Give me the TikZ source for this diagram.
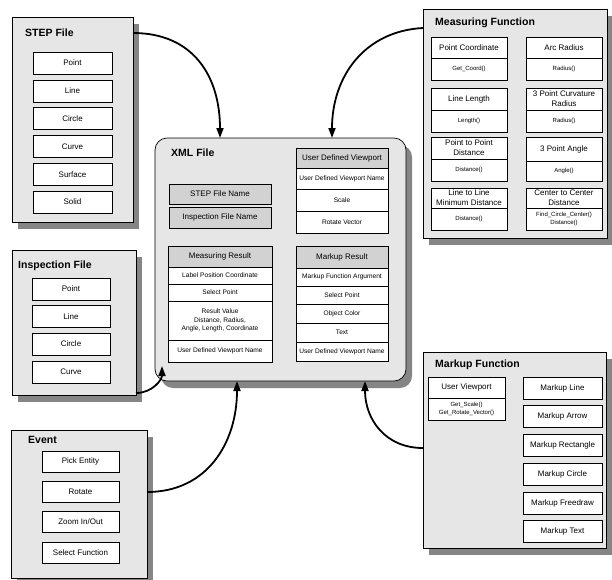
\documentclass[tikz,border=0pt]{standalone}
\usepackage{fontspec}
\setmainfont{Liberation Sans}
\usetikzlibrary{arrows.meta,shadows}
\definecolor{panelgray}{HTML}{E6E6E6}
\definecolor{headgray}{HTML}{D2D2D2}
\definecolor{shadowgray}{HTML}{858585}
\newcommand\fTitle{\fontsize{10.5}{12}\selectfont\bfseries}
\newcommand\fItem{\fontsize{8}{10}\selectfont}
\newcommand\fRow{\fontsize{6.6}{8.6}\selectfont}
\newcommand\fFunc{\fontsize{6}{7.3}\selectfont}
\newcommand\fHead{\fontsize{8}{10}\selectfont}
\begin{document}
\begin{tikzpicture}[x=1pt,y=-1pt,
  panel/.style={draw, fill=panelgray, line width=0.7pt, inner sep=0pt,
    drop shadow={shadow xshift=6pt, shadow yshift=-7pt, fill=shadowgray, opacity=1}},
  box/.style={draw, fill=white, line width=0.6pt, inner sep=0pt, align=center},
  head/.style={box, fill=headgray},
  ttl/.style={anchor=base west, inner sep=0pt, font=\fTitle},
  stepitem/.style={box, minimum width=79pt, minimum height=22pt, font=\fItem},
  inspitem/.style={box, minimum width=78pt, minimum height=22pt, font=\fItem},
  evitem/.style={box, minimum width=77pt, minimum height=21pt, font=\fItem},
  mfl/.style={box, minimum width=76pt, font=\fHead},
  mff/.style={box, minimum width=76pt, font=\fFunc},
  mkitem/.style={box, minimum width=79pt, minimum height=22pt, font=\fItem},
  conn/.style={line width=1.8pt, -{Triangle[length=10pt,width=7pt]}}
]
\useasboundingbox (0,0) rectangle (612,579);
\clip (0,0) rectangle (612,579);

% STEP File
\node[panel, minimum width=121pt, minimum height=205pt] (step) at (72.5,119.5) {};
\node[ttl] (stept) at (25,36) {STEP File};
\node[stepitem] (s1) at (72.5,63) {Point};
\node[stepitem] (s2) at (72.5,90.8) {Line};
\node[stepitem] (s3) at (72.5,118.6) {Circle};
\node[stepitem] (s4) at (72.5,146.4) {Curve};
\node[stepitem] (s5) at (72.5,174.2) {Surface};
\node[stepitem] (s6) at (72.5,202) {Solid};

% Inspection File
\node[panel, minimum width=124pt, minimum height=145pt] (insp) at (74,322.5) {};
\node[ttl] (inspt) at (18,268) {Inspection File};
\node[inspitem] (i1) at (71,289) {Point};
\node[inspitem] (i2) at (71,316.5) {Line};
\node[inspitem] (i3) at (71,344) {Circle};
\node[inspitem] (i4) at (71,372) {Curve};

% Event
\node[panel, minimum width=136pt, minimum height=148pt] (event) at (79,504) {};
\node[ttl] (eventt) at (28,443) {Event};
\node[evitem] (e1) at (80.5,461.5) {Pick Entity};
\node[evitem] (e2) at (80.5,492) {Rotate};
\node[evitem] (e3) at (80.5,522) {Zoom In/Out};
\node[evitem] (e4) at (80.5,552.5) {Select Function};

% XML File
\node[panel, rounded corners=12pt, minimum width=251pt, minimum height=243pt] (xml) at (280.5,259.5) {};
\node[ttl] (xmlt) at (171,156) {XML File};
\node[head, minimum width=102pt, minimum height=20pt, font=\fHead] (sfn) at (220,194) {STEP File Name};
\node[head, minimum width=102pt, minimum height=21pt, font=\fHead] (ifn) at (220,217.5) {Inspection File Name};

\node[head, minimum width=92pt, minimum height=20pt, font=\fHead] (udvh) at (342,158) {User Defined Viewport};
\node[box, minimum width=92pt, minimum height=21pt, font=\fRow] (udv1) at (342,178.5) {User Defined Viewport Name};
\node[box, minimum width=92pt, minimum height=22pt, font=\fRow] (udv2) at (342,200) {Scale};
\node[box, minimum width=92pt, minimum height=22pt, font=\fRow] (udv3) at (342,222) {Rotate Vector};

\node[head, minimum width=104pt, minimum height=21pt, font=\fHead] (mrh) at (220,256.5) {Measuring Result};
\node[box, minimum width=104pt, minimum height=17pt, font=\fRow] (mr1) at (220,275.5) {Label Position Coordinate};
\node[box, minimum width=104pt, minimum height=17pt, font=\fRow] (mr2) at (220,292.5) {Select Point};
\node[box, minimum width=104pt, minimum height=39pt, font=\fRow] (mr3) at (220,320.5) {Result Value\\Distance, Radius,\\Angle, Length, Coordinate};
\node[box, minimum width=104pt, minimum height=22pt, font=\fRow] (mr4) at (220,351) {User Defined Viewport Name};

\node[head, minimum width=92pt, minimum height=22pt, font=\fHead] (mkh) at (342,257) {Markup Result};
\node[box, minimum width=92pt, minimum height=18pt, font=\fRow] (mk1) at (342,277) {Markup Function Argument};
\node[box, minimum width=92pt, minimum height=18pt, font=\fRow] (mk2) at (342,295) {Select Point};
\node[box, minimum width=92pt, minimum height=19pt, font=\fRow] (mk3) at (342,313.5) {Object Color};
\node[box, minimum width=92pt, minimum height=19pt, font=\fRow] (mk4) at (342,332.5) {Text};
\node[box, minimum width=92pt, minimum height=19pt, font=\fRow] (mk5) at (342,351.5) {User Defined Viewport Name};

% Measuring Function
\node[panel, minimum width=184pt, minimum height=229pt] (mf) at (515,123.5) {};
\node[ttl] (mft) at (435,25) {Measuring Function};
\node[mfl, minimum height=21pt] (pc) at (469,47.5) {Point Coordinate};
\node[mff, minimum height=22pt] (pcf) at (469,69) {Get\_Coord()};
\node[mfl, minimum height=22pt] (ll) at (469,99) {Line Length};
\node[mff, minimum height=22pt] (llf) at (469,121) {Length()};
\node[mfl, minimum height=22pt] (ptp) at (469,148) {Point to Point\\Distance};
\node[mff, minimum height=22pt] (ptpf) at (469,170) {Distance()};
\node[mfl, minimum height=20pt] (ltl) at (469,198) {Line to Line\\Minimum Distance};
\node[mff, minimum height=22pt] (ltlf) at (469,219) {Distance()};

\node[mfl, minimum height=21pt] (ar) at (564,47.5) {Arc Radius};
\node[mff, minimum height=22pt] (arf) at (564,69) {Radius()};
\node[mfl, minimum height=22pt] (cr) at (564,99) {3 Point Curvature\\Radius};
\node[mff, minimum height=22pt] (crf) at (564,121) {Radius()};
\node[mfl, minimum height=24pt] (pa) at (564,149) {3 Point Angle};
\node[mff, minimum height=20pt] (paf) at (564,171) {Angle()};
\node[mfl, minimum height=20pt] (cc) at (564,198) {Center to Center\\Distance};
\node[mff, minimum height=22pt] (ccf) at (564,219) {Find\_Circle\_Center()\\Distance()};

% Markup Function
\node[panel, minimum width=183pt, minimum height=196pt] (mkf) at (514.5,450) {};
\node[ttl] (mkft) at (435,367) {Markup Function};
\node[mfl, minimum width=77pt, minimum height=21pt] (uv) at (466.5,387.5) {User Viewport};
\node[mff, minimum width=77pt, minimum height=22pt] (uvf) at (466.5,409) {Get\_Scale()\\Get\_Rotate\_Vector()};
\node[mkitem] (k1) at (562.5,388) {Markup Line};
\node[mkitem] (k2) at (562.5,416.5) {Markup Arrow};
\node[mkitem] (k3) at (562.5,445) {Markup Rectangle};
\node[mkitem] (k4) at (562.5,474) {Markup Circle};
\node[mkitem] (k5) at (562.5,503) {Markup Freedraw};
\node[mkitem] (k6) at (562.5,531.5) {Markup Text};

% connectors
\coordinate (cs) at (133,33);
\coordinate (cx1) at (220,138);
\coordinate (cm) at (423,28);
\coordinate (cx2) at (332,138);
\coordinate (ci) at (136,393);
\coordinate (cx3) at (162,366);
\coordinate (ce) at (147,492);
\coordinate (cx4) at (237,381);
\coordinate (ck) at (423,448);
\coordinate (cx5) at (365,381);
\draw[conn] (cs) .. controls +(60,0) and +(0,-62) .. (cx1);
\draw[conn] (cm) .. controls +(-58,3) and +(0,-62) .. (cx2);
\draw[conn] (ci) .. controls +(16,0) and +(0,14) .. (cx3);
\draw[conn] (ce) .. controls +(60,0) and +(0,62) .. (cx4);
\draw[conn] (ck) .. controls +(-38,0) and +(0,38) .. (cx5);
\end{tikzpicture}
\end{document}
